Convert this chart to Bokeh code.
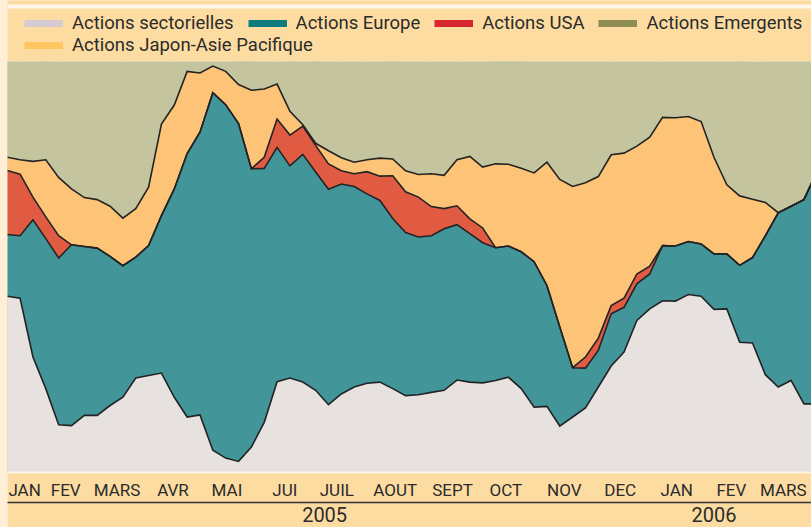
import numpy as np
from bokeh.plotting import figure
from bokeh.layouts import column
from bokeh.models import (ColumnDataSource, Range1d, LinearAxis, FixedTicker,
                          Legend, LegendItem, BoxAnnotation)
from bokeh.embed import file_html
from bokeh.resources import INLINE

# ---------------- data (weekly shares, %) ----------------
series_names = ["Actions sectorielles", "Actions Europe", "Actions USA",
                "Actions Japon-Asie Pacifique", "Actions Emergents"]

sect = [42.9, 42.4, 28.1, 20.4, 11.6, 11.4, 13.9, 13.9, 16.3, 18.3,
        23.0, 23.6, 24.2, 18.3, 13.5, 14.0, 5.4, 3.5, 2.7, 6.2,
        12.2, 22.1, 23.0, 22.0, 20.0, 16.5, 19.1, 20.8, 21.7, 22.0,
        20.4, 18.7, 18.9, 19.5, 20.0, 22.5, 22.0, 21.8, 22.4, 23.2,
        20.4, 15.9, 16.1, 11.3, 13.5, 15.7, 20.8, 25.9, 29.3, 37.0,
        39.8, 41.8, 41.7, 43.3, 42.9, 39.7, 39.8, 31.7, 31.5, 23.8,
        20.8, 22.4, 16.7, 16.7]

europe = [15.0, 15.2, 33.4, 36.5, 40.6, 44.0, 41.1, 40.7, 36.3, 32.0,
          29.4, 31.6, 38.3, 50.7, 64.1, 68.8, 87.0, 86.0, 82.2, 67.7,
          61.8, 57.0, 51.6, 55.4, 53.1, 52.4, 51.1, 48.8, 46.1, 44.2,
          41.4, 39.7, 38.4, 38.1, 39.3, 37.8, 36.1, 34.1, 32.3, 31.9,
          33.3, 35.4, 29.4, 24.1, 12.0, 9.7, 8.9, 12.7, 10.9, 8.9,
          8.5, 13.4, 13.4, 12.9, 12.7, 13.5, 13.4, 18.7, 20.8, 33.8,
          42.4, 42.4, 49.7, 56.4]

usa = [15.6, 15.0, 5.5, 5.3, 5.4, 0, 0, 0, 0, 0,
       0, 0, 0, 0, 0, 0, 0, 0, 0, 0,
       2.7, 6.9, 7.5, 6.9, 6.5, 6.2, 3.2, 3.1, 5.4, 5.9,
       10.4, 9.9, 9.7, 7.1, 4.9, 4.6, 3.6, 3.6, 0, 0,
       0, 0, 0, 0, 0, 2.7, 3.0, 2.0, 2.2, 2.4,
       1.9, 0, 0, 0, 0, 0, 0, 0, 0, 0,
       0, 0, 0, 0]

japon = [3.2, 3.5, 8.7, 13.9, 14.2, 13.6, 11.9, 11.8, 12.2, 11.6,
         11.8, 14.2, 22.3, 20.4, 20.0, 14.4, 6.5, 8.1, 9.5, 19.1,
         16.6, 8.5, 5.8, 0.3, 0.5, 3.2, 3.2, 2.8, 2.9, 4.4,
         4.1, 5.1, 5.5, 8.0, 8.1, 11.2, 15.2, 14.8, 20.4, 19.9,
         20.3, 21.6, 30.0, 35.9, 44.1, 42.4, 39.3, 36.7, 35.3, 31.1,
         31.4, 31.2, 31.2, 30.4, 29.8, 23.5, 16.8, 16.9, 14.2, 8.1,
         0, 0, 0, 0]

emerg = [23.4, 23.8, 24.3, 24.0, 28.1, 31.0, 33.1, 33.6, 35.2, 38.0,
         35.8, 30.6, 15.2, 10.5, 2.4, 2.8, 1.1, 2.4, 5.7, 7.1,
         6.7, 5.4, 12.2, 15.4, 20.0, 21.7, 23.3, 24.5, 23.8, 23.5,
         23.8, 26.5, 27.5, 27.2, 27.7, 23.8, 23.1, 25.7, 25.0, 25.1,
         26.1, 27.1, 24.5, 28.7, 30.4, 29.5, 28.0, 22.6, 22.3, 20.6,
         18.4, 13.5, 13.7, 13.4, 14.6, 23.3, 30.0, 32.8, 33.4, 34.2,
         36.8, 35.2, 33.6, 26.9]

month_labels = ["JAN", "FEV", "MARS", "AVR", "MAI", "JUI", "JUIL", "AOUT",
                "SEPT", "OCT", "NOV", "DEC", "JAN", "FEV", "MARS"]
year_labels = ["2005", "2006"]

# ---------------- layout / style ----------------
month_pos = [1.35, 4.55, 8.55, 12.9, 17.1, 21.6, 25.65, 30.2, 34.65, 38.8,
             43.35, 47.7, 52.1, 56.35, 60.4]
year_pos = [24.7, 55.0]

fill_cols = ["#E7E1E0", "#42969A", "#E05B42", "#FDC377", "#C4C59F"]
legend_cols = ["#D4CBD3", "#0F7B7C", "#D8262E", "#FFC561", "#8D8C52"]
peach = "#FDDCA2"
txt = "#2b2b2b"
font = "Roboto"

weeks = np.arange(len(sect))
src = ColumnDataSource(dict(x=weeks, s0=sect, s1=europe, s2=usa, s3=japon, s4=emerg))

p = figure(width=804, height=466, x_range=Range1d(0.02, 62.59), y_range=Range1d(0, 100),
           output_backend="svg", toolbar_location=None, x_axis_location=None,
           y_axis_location=None, title_location=None,
           min_border_left=0, min_border_right=0, min_border_top=0, min_border_bottom=55,
           background_fill_color=fill_cols[4], border_fill_color=peach,
           outline_line_color=None)
p.xgrid.visible = False
p.ygrid.visible = False

p.varea_stack(stackers=["s0", "s1", "s2", "s3", "s4"], x="x", color=fill_cols, source=src)

cum = np.cumsum(np.array([sect, europe, usa, japon]), axis=0)
for level in cum:
    p.line(weeks, level, line_color="#232323", line_width=1.6, line_join="miter")

# axes
ax1 = LinearAxis(ticker=FixedTicker(ticks=month_pos),
                 major_label_overrides={t: l for t, l in zip(month_pos, month_labels)})
ax1.axis_line_color = "#FFF4E2"
ax1.axis_line_width = 2
ax1.major_tick_line_color = None
ax1.minor_tick_line_color = None
ax1.major_tick_out = 0
ax1.major_label_standoff = 7
ax1.major_label_text_font = font
ax1.major_label_text_font_size = "17px"
ax1.major_label_text_color = txt
p.add_layout(ax1, "below")

ax2 = LinearAxis(ticker=FixedTicker(ticks=year_pos),
                 major_label_overrides={t: l for t, l in zip(year_pos, year_labels)})
ax2.axis_line_color = "#333333"
ax2.axis_line_width = 1.6
ax2.major_tick_line_color = None
ax2.minor_tick_line_color = None
ax2.major_tick_out = 0
ax2.major_label_standoff = 4
ax2.major_label_text_font = font
ax2.major_label_text_font_size = "20px"
ax2.major_label_text_color = txt
p.add_layout(ax2, "below")

# ---------------- legend strip (its own frame-only figure) ----------------
lg = figure(width=804, height=61, x_range=Range1d(0, 1), y_range=Range1d(0, 61),
            output_backend="svg", toolbar_location=None, x_axis_location=None,
            y_axis_location=None, title_location=None,
            min_border_left=0, min_border_right=0, min_border_top=0, min_border_bottom=0,
            background_fill_color=peach, border_fill_color=peach, outline_line_color=None)
lg.xgrid.visible = False
lg.ygrid.visible = False
# thin pale rule along the top of the header
lg.add_layout(BoxAnnotation(bottom=53, top=57, fill_color="#FFF8EA", fill_alpha=1,
                            line_color=None))

sw = []
for c in legend_cols:
    sw.append(lg.line([0, 1], [-5, -5], line_color=c, line_width=7))

def make_legend(idx, loc):
    return Legend(items=[LegendItem(label=series_names[i], renderers=[sw[i]]) for i in idx],
                  orientation="horizontal", location=loc,
                  glyph_width=39, glyph_height=22, label_height=22, label_standoff=9,
                  spacing=14, padding=0, margin=0,
                  background_fill_alpha=0, border_line_alpha=0,
                  label_text_font=font, label_text_font_size="18.5px",
                  label_text_color=txt)

lg.add_layout(make_legend([0, 1, 2, 4], (17, 27.5)))
lg.add_layout(make_legend([3], (17, 5.5)))

layout = column(lg, p, spacing=0, margin=(0, 0, 0, 7))

html = file_html(layout, INLINE, title="Allocation")
html = html.replace("<head>", "<head><style>html,body{margin:0;padding:0;background:#FFEFD6;}</style>", 1)
open("out.html", "w").write(html)
